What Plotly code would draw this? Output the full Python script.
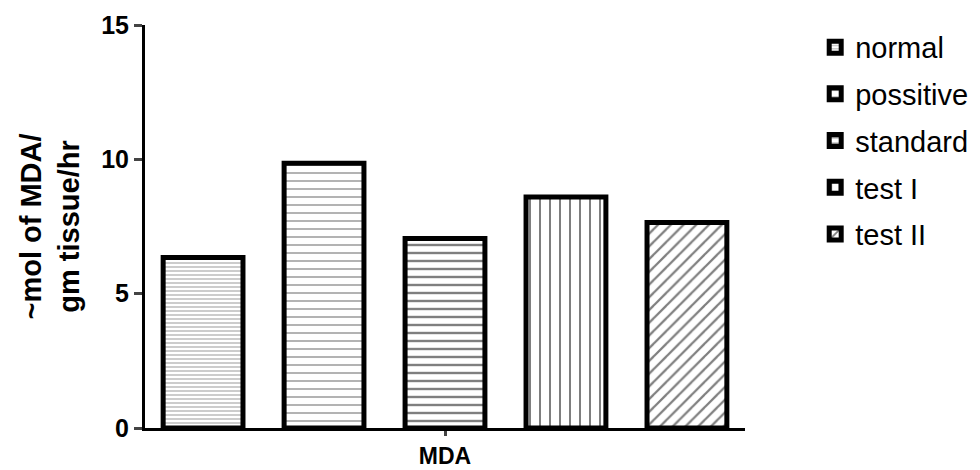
import plotly.graph_objects as go

groups = ["normal", "possitive", "standard", "test I", "test II"]
values = [6.35, 9.85, 7.05, 8.6, 7.65]
patterns = ["-", "-", "-", "|", "/"]
pattern_sizes = [4, 8, 8, 10, 9]
pattern_solidity = [0.2, 0.15, 0.3, 0.2, 0.25]
category_label = "MDA"

fig = go.Figure()
for i, (g, v) in enumerate(zip(groups, values)):
    fig.add_trace(go.Bar(
        x=[i], y=[v], name=g, width=0.66, legendgroup=g,
        marker=dict(color="white", line=dict(color="black", width=5),
                    pattern=dict(shape=patterns[i], size=pattern_sizes[i],
                                 solidity=pattern_solidity[i], fgcolor="black",
                                 bgcolor="white")),
    ))

font = "Liberation Sans, Arial, sans-serif"
fig.update_layout(
    width=972, height=462,
    margin=dict(l=137, r=235, t=17, b=42, autoexpand=False),
    paper_bgcolor="white", plot_bgcolor="white",
    barmode="overlay",
    font=dict(family=font, color="black"),
    legend=dict(x=1.117, y=1.008, xanchor="left", yanchor="top",
                font=dict(size=29), tracegroupgap=6, itemwidth=30),
    xaxis=dict(range=[-0.48, 4.48], tickvals=[2], ticktext=[category_label],
               ticks="outside", ticklen=5, tickwidth=3, showline=True,
               linewidth=3, linecolor="black", showgrid=False, zeroline=False,
               tickfont=dict(size=23, family=font, weight="bold"),
               automargin=False),
    yaxis=dict(range=[0, 15], tickvals=[0, 5, 10, 15], ticks="outside",
               ticklen=8, tickwidth=3, showline=True, linewidth=3,
               linecolor="black", showgrid=False, zeroline=False,
               tickfont=dict(size=25, family=font, weight="bold"),
               automargin=False,
               title=dict(text="~mol of MDA/<br>gm tissue/hr",
                          font=dict(size=29, family=font, weight="bold"),
                          standoff=14)),
)
fig.write_html("out.html")
